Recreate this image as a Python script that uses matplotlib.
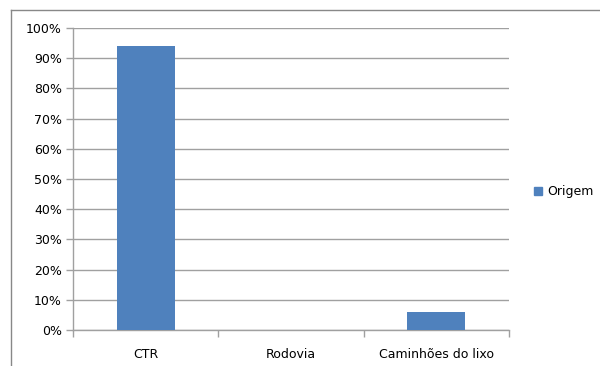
import matplotlib
matplotlib.use("Agg")
import matplotlib.pyplot as plt
from matplotlib.lines import Line2D
from matplotlib.ticker import FixedLocator, PercentFormatter

categories = ["CTR", "Rodovia", "Caminhões do lixo"]
values = [94, 0, 6]
series_name = "Origem"
yticks = list(range(0, 101, 10))

bar_color = "#4F81BD"
grid_color = "#A0A0A0"

plt.rcParams["font.family"] = ["DejaVu Sans"]

fig = plt.figure(figsize=(6.0, 3.66), dpi=100)
W, H = 600, 366
ax = fig.add_axes([73 / W, 1 - 330 / H, (509 - 73) / W, (330 - 28) / H])

x = list(range(len(categories)))
ax.bar(x, values, width=0.4, color=bar_color, zorder=3, label=series_name)

ax.set_xlim(-0.5, len(categories) - 0.5)
ax.set_ylim(0, 100)
ax.set_yticks(yticks)
ax.yaxis.set_major_formatter(PercentFormatter(decimals=0))
ax.yaxis.grid(True, color=grid_color, linewidth=1.0, zorder=0)

ax.set_xticks(x)
ax.set_xticklabels(categories)
ax.xaxis.set_minor_locator(FixedLocator([i - 0.5 for i in range(len(categories) + 1)]))
ax.tick_params(axis="x", which="major", length=0, pad=13, labelsize=9)
ax.tick_params(axis="x", which="minor", length=5, color=grid_color, width=1.0)
ax.tick_params(axis="y", length=5, color=grid_color, width=1.0, labelsize=9, pad=3)

for side in ("top", "right"):
    ax.spines[side].set_visible(False)
for side in ("left", "bottom"):
    ax.spines[side].set_color(grid_color)
    ax.spines[side].set_linewidth(1.0)

# legend to the right of the plot area
handle = Line2D([], [], marker="s", linestyle="none", markersize=6,
                markerfacecolor=bar_color, markeredgecolor=bar_color)
fig.legend([handle], [series_name], loc="center left",
           bbox_to_anchor=(522 / W, 1 - 192 / H), frameon=False,
           fontsize=9, handletextpad=0.3, handlelength=0.8)

# chart area border (top and left edges)
fig.add_artist(Line2D([11 / W, 11 / W], [0, 1 - 10 / H], transform=fig.transFigure,
                      color="#888888", linewidth=1.0))
fig.add_artist(Line2D([11 / W, 1], [1 - 10 / H, 1 - 10 / H], transform=fig.transFigure,
                      color="#888888", linewidth=1.0))

fig.savefig("out.png", dpi=100, facecolor="white")
